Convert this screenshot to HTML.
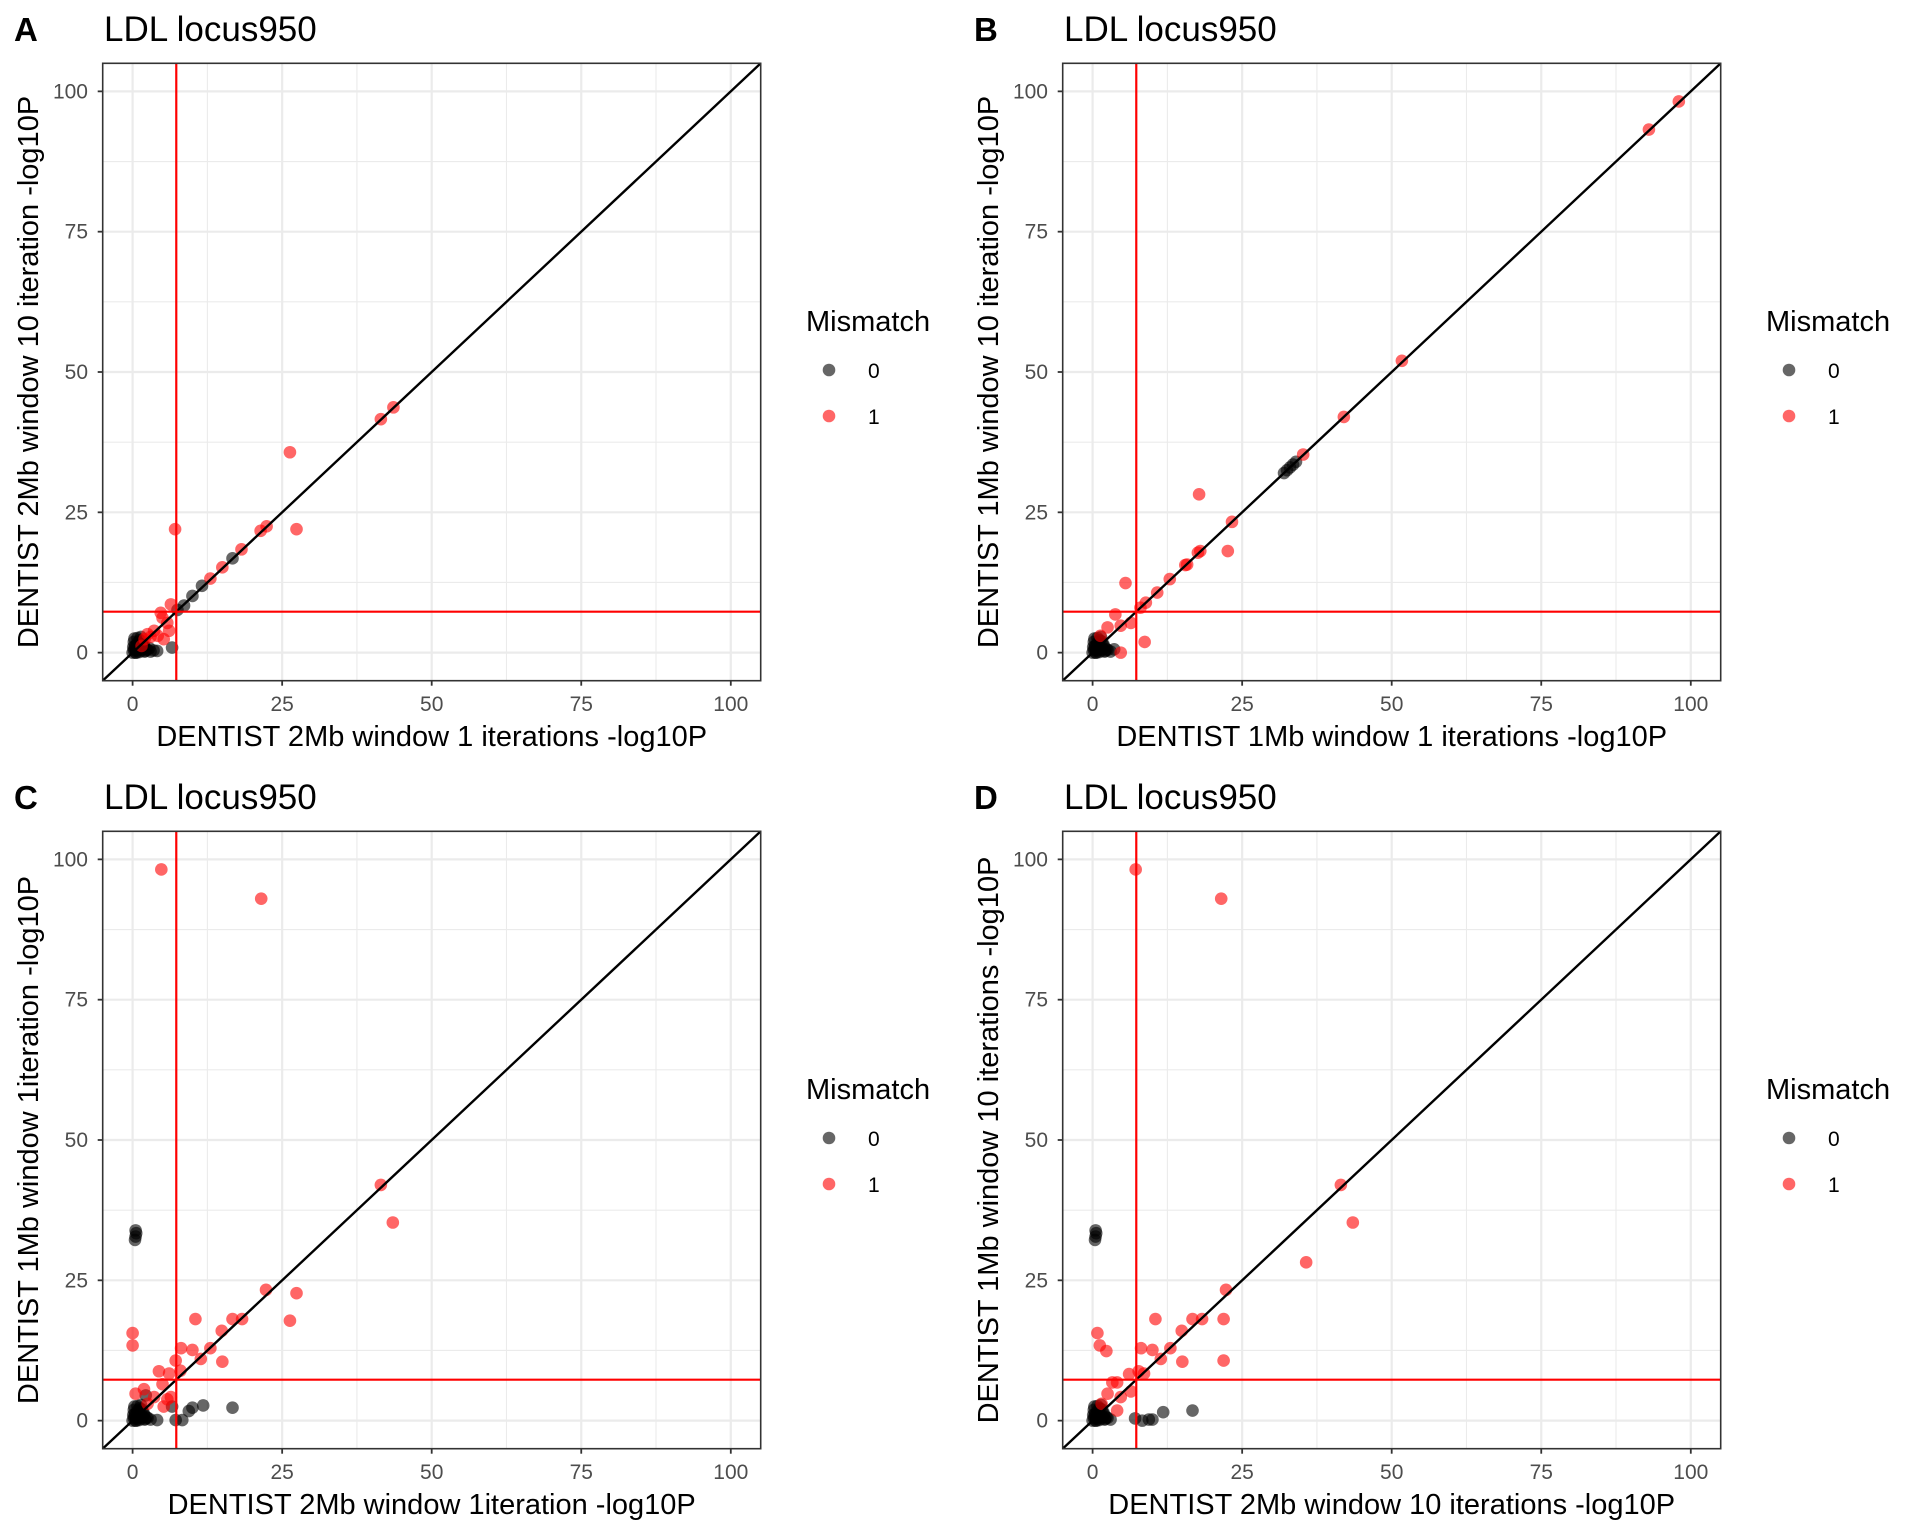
<!DOCTYPE html>
<html><head><meta charset="utf-8"><style>
html,body{margin:0;padding:0;background:#fff}
svg{display:block;font-family:"Liberation Sans",sans-serif}
</style></head><body>
<svg id="fig" width="1920" height="1536" viewBox="0 0 1920 1536"></svg>
<script>
// Shared tick values
const tickValues = [0, 25, 50, 75, 100];
const tickLabels = ["0", "25", "50", "75", "100"];
const minorTicks = [12.5, 37.5, 62.5, 87.5];
const threshold = 7.3;

// Near-origin cluster of non-mismatch points (shared shape)
const clusterX = [0,0.2,0.4,0.6,0.8,1,1.2,1.5,1.8,2,2.3,0.3,0.5,1,1.5,2.5,3,0.1,0.7,1.1,0.4,0.9,1.3,1.7,0.2,0.6,1.9,2.1,0.8,1.4];
const clusterY = [0,0.5,1.2,0.3,1.8,0.8,2.2,0.4,1.5,0.2,0.6,2.5,0,1.4,2,0.5,0.2,1,0.6,0.1,0.9,1.6,1,0.7,1.9,0,1.1,0.3,2.6,2.8];

// Panel A
const aX0 = clusterX.concat([4.1,6.6,7.5,8.6,10,11.6,16.7,3.5,2.8]);
const aY0 = clusterY.concat([0.3,0.9,7.6,8.4,10.1,11.9,16.8,0.4,0.8]);
const aX1 = [7.1,21.4,22.4,27.4,18.2,15,13,6.4,4.7,5,5.8,6.1,5.2,3.6,2.5,26.3,41.5,43.6,1.5,2,4.2,3];
const aY1 = [22.0,21.7,22.5,22.0,18.4,15.2,13.2,8.6,7.1,6.2,5.3,3.9,2.4,3.9,3.3,35.7,41.6,43.7,1.2,2.4,3,2.8];

// Panel B
const bX0 = clusterX.concat([3.6,32,32.5,33,33.5,34]);
const bY0 = clusterY.concat([0.6,32,32.5,33,33.5,34]);
const bX1 = [17.8,23.3,22.6,18,15.8,12.9,10.8,8.9,8,5.5,3.8,6.4,4.7,2.5,8.7,4.7,1.3,93,98,51.7,42,35.2,17.6,15.5];
const bY1 = [28.2,23.3,18.1,18.1,15.7,13.1,10.7,8.9,8,12.4,6.8,5.3,4.8,4.5,1.9,0,3,93.2,98.2,52,42,35.3,17.8,15.6];

// Panel C
const cX0 = clusterX.concat([6.6,7.2,8.3,9.4,10,11.8,16.7,4.1,2.2,0.4,0.5,0.6,0.5]);
const cY0 = clusterY.concat([2.5,0.1,0.1,1.7,2.3,2.7,2.3,0.1,4.5,32.2,32.8,33.4,33.9]);
const cX1 = [22.3,27.4,26.3,16.7,18.3,10.5,14.9,0,0,8.1,10,13,11.4,15,7.2,4.4,6.1,8,5,0.5,1.9,3.6,5.2,6.4,2.5,5.8,4.8,21.5,41.5,43.5];
const cY1 = [23.3,22.7,17.8,18.1,18.1,18.1,16,15.6,13.4,12.9,12.6,12.9,11,10.5,10.7,8.8,8.4,8.9,6.5,4.8,5.6,4.2,2.5,4.2,3,3.8,98.2,93,42,35.3];

// Panel D
const dX0 = clusterX.concat([7.1,8.3,9.4,10,11.8,16.7,0.4,0.5,0.6,0.5]);
const dY0 = clusterY.concat([0.4,0,0.2,0.2,1.5,1.8,32.2,32.8,33.4,33.9]);
const dX1 = [35.7,22.3,21.9,16.7,18.3,10.5,14.9,0.8,1.2,2.3,8.1,10,13,11.4,15,21.9,6.1,7.7,8.6,3.3,4.1,6.4,4.7,2.5,4.1,1.5,7.2,21.5,41.5,43.5];
const dY1 = [28.2,23.3,18.1,18.1,18.1,18.1,16,15.6,13.4,12.4,12.9,12.6,12.9,11,10.5,10.7,8.3,8.8,8.4,6.8,6.8,5.2,4.2,4.8,1.8,3,98.2,93,42,35.3];

const NS = "http://www.w3.org/2000/svg";
const svg = document.getElementById("fig");
function mk(tag, attrs, parent){
  const e = document.createElementNS(NS, tag);
  for (const k in attrs) e.setAttribute(k, attrs[k]);
  (parent || svg).appendChild(e);
  return e;
}
const L = 102.7, R = 760.7, T = 63.3, B = 680.7, DMIN = -5, DMAX = 105;
const PR = 6.3;
function sx(v){ return L + (v - DMIN) / (DMAX - DMIN) * (R - L); }
function sy(v){ return B - (v - DMIN) / (DMAX - DMIN) * (B - T); }

function panel(ox, oy, letter, xt, yt, x0, y0, x1, y1){
  const g = mk("g", {transform: "translate(" + ox + "," + oy + ")"});
  
  
  const lt = mk("text", {x: 14, y: 41, "font-size": 33, "font-weight": "bold", fill: "#000"}, g);
  lt.textContent = letter;
  
  
  const tt = mk("text", {x: 104, y: 41, "font-size": 35, fill: "#000"}, g);
  tt.textContent = "LDL locus950";
  
  
  const bg = mk("rect", {x: L, y: T, width: R - L, height: B - T, fill: "#fff"}, g);
  
  
  const clipId = "clip" + letter;
  const cp = mk("clipPath", {id: clipId}, g);
  mk("rect", {x: L, y: T, width: R - L, height: B - T}, cp);
  minorTicks.forEach(v => {
    const a = mk("line", {x1: sx(v), x2: sx(v), y1: T, y2: B, stroke: "#ebebeb", "stroke-width": 1.1}, g);
    
    
    const b = mk("line", {x1: L, x2: R, y1: sy(v), y2: sy(v), stroke: "#ebebeb", "stroke-width": 1.1}, g);
    
    
  });
  tickValues.forEach((v, i) => {
    const a = mk("line", {x1: sx(v), x2: sx(v), y1: T, y2: B, stroke: "#ebebeb", "stroke-width": 2.2}, g);
    
    
    const b = mk("line", {x1: L, x2: R, y1: sy(v), y2: sy(v), stroke: "#ebebeb", "stroke-width": 2.2}, g);
    
    
    const tx = mk("line", {x1: sx(v), x2: sx(v), y1: B, y2: B + 5, stroke: "#333", "stroke-width": 1.8}, g);
    
    
    const ty = mk("line", {x1: L - 5, x2: L, y1: sy(v), y2: sy(v), stroke: "#333", "stroke-width": 1.8}, g);
    
    
    const xl = mk("text", {x: sx(v), y: 711, "font-size": 21, fill: "#4d4d4d", "text-anchor": "middle"}, g);
    xl.textContent = tickLabels[i];
    
    
    const yl = mk("text", {x: 88, y: sy(v) + 7, "font-size": 21, fill: "#4d4d4d", "text-anchor": "end"}, g);
    yl.textContent = tickLabels[i];
    
    
  });
  const pg = mk("g", {"clip-path": "url(#" + clipId + ")"}, g);
  x0.forEach((v, i) => {
    const c = mk("circle", {cx: sx(v), cy: sy(y0[i]), r: PR, fill: "#000", "fill-opacity": 0.6}, pg);
    
    
  });
  x1.forEach((v, i) => {
    const c = mk("circle", {cx: sx(v), cy: sy(y1[i]), r: PR, fill: "#ff0000", "fill-opacity": 0.6}, pg);
    
    
  });
  const d = mk("line", {x1: sx(DMIN), y1: sy(DMIN), x2: sx(DMAX), y2: sy(DMAX), stroke: "#000", "stroke-width": 2.4}, pg);
  
  
  const vl = mk("line", {x1: sx(threshold), x2: sx(threshold), y1: T, y2: B, stroke: "#ff0000", "stroke-width": 2.2}, pg);
  
  
  const hl = mk("line", {x1: L, x2: R, y1: sy(threshold), y2: sy(threshold), stroke: "#ff0000", "stroke-width": 2.2}, pg);
  
  
  const br = mk("rect", {x: L, y: T, width: R - L, height: B - T, fill: "none", stroke: "#333", "stroke-width": 1.6}, g);
  
  
  const xa = mk("text", {x: (L + R) / 2, y: 746, "font-size": 29, fill: "#000", "text-anchor": "middle"}, g);
  xa.textContent = xt;
  
  
  const ya = mk("text", {x: 0, y: 0, "font-size": 29, fill: "#000", "text-anchor": "middle", transform: "translate(38," + ((T + B) / 2) + ") rotate(-90)"}, g);
  ya.textContent = yt;
  
  
  const lg = mk("g", {}, g);
  
  
  const lgt = mk("text", {x: 806, y: 331, "font-size": 29, fill: "#000"}, lg);
  lgt.textContent = "Mismatch";
  
  
  [["0", "#000", 370], ["1", "#ff0000", 416]].forEach(e => {
    const c = mk("circle", {cx: 829, cy: e[2], r: PR, fill: e[1], "fill-opacity": 0.6}, lg);
    
    
    const t = mk("text", {x: 868, y: e[2] + 8, "font-size": 21, fill: "#000"}, lg);
    t.textContent = e[0];
    
    
  });
}
panel(0, 0, "A", "DENTIST 2Mb window 1 iterations -log10P", "DENTIST 2Mb window 10 iteration -log10P", aX0, aY0, aX1, aY1);
panel(960, 0, "B", "DENTIST 1Mb window 1 iterations -log10P", "DENTIST 1Mb window 10 iteration -log10P", bX0, bY0, bX1, bY1);
panel(0, 768, "C", "DENTIST 2Mb window 1iteration -log10P", "DENTIST 1Mb window 1iteration -log10P", cX0, cY0, cX1, cY1);
panel(960, 768, "D", "DENTIST 2Mb window 10 iterations -log10P", "DENTIST 1Mb window 10 iterations -log10P", dX0, dY0, dX1, dY1);
</script>
</body></html>
